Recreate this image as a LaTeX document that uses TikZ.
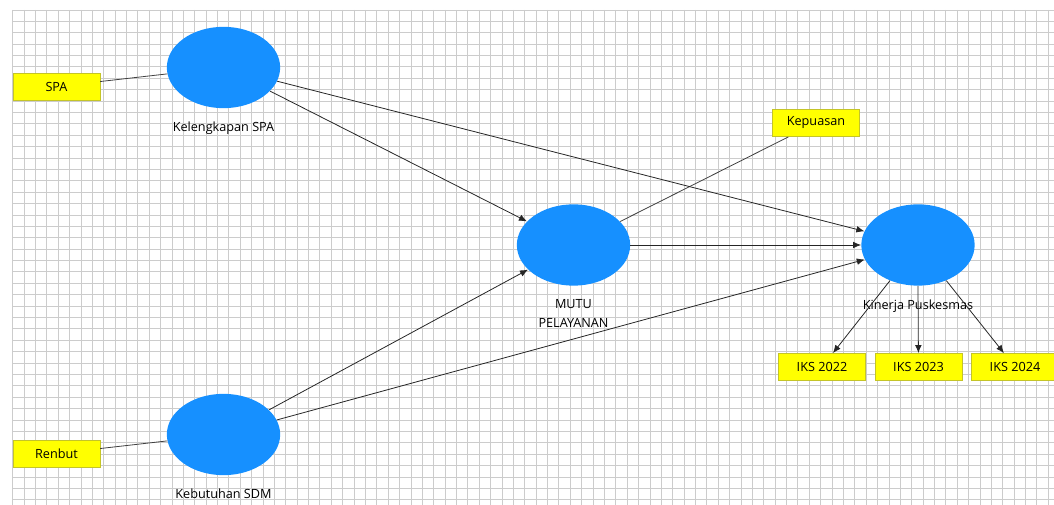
\documentclass[tikz,border=0pt]{standalone}
\usepackage{fontspec}
\setmainfont{Open Sans}
\usetikzlibrary{arrows.meta,positioning,shapes.geometric}
\definecolor{lvblue}{RGB}{22,144,255}
\definecolor{mvyellow}{RGB}{255,255,0}
\definecolor{mvedge}{RGB}{196,196,40}
\definecolor{gridgray}{RGB}{204,204,204}
\tikzset{
  latent/.style={ellipse, fill=lvblue, draw=none, minimum width=85pt, minimum height=61pt, inner sep=0pt},
  indic/.style={rectangle, fill=mvyellow, draw=mvedge, minimum width=65pt, minimum height=20.5pt, inner sep=2pt, font=\fontsize{9.5}{11}\selectfont},
  lbl/.style={inner sep=0pt, label distance=10pt, align=center, font=\fontsize{9.5}{14}\selectfont},
  arr/.style={-{Latex[length=6pt,width=5pt]}, black!85, line width=0.6pt},
  lnk/.style={black!75, line width=0.6pt},
}

\begin{document}
\begin{tikzpicture}[x=0.75pt,y=-0.75pt]
  \useasboundingbox (0,0) rectangle (1054,505);
  % grid paper
  \foreach \i in {0,...,91}
    \draw[gridgray, line width=0.7pt] ({12.7+11.38*\i},10) -- ({12.7+11.38*\i},505);
  \foreach \j in {0,...,43}
    \draw[gridgray, line width=0.7pt] (12.7,{10+11.39*\j}) -- (1054,{10+11.39*\j});

  % latent variables
  \node[latent, label={[lbl]below:Kelengkapan SPA}] (kel) at (223.5,67.5) {};
  \node[latent, label={[lbl]below:Kebutuhan SDM}] (sdm) at (223.5,434.5) {};
  \node[latent, label={[lbl]below:{MUTU\\PELAYANAN}}] (mutu) at (573.5,245) {};
  \node[latent, label={[lbl]below:Kinerja Puskesmas}] (kinerja) at (918,245) {};

  % indicators
  \node[indic] (spa) at (56.5,86.5) {SPA};
  \node[indic] (renbut) at (56.5,453.5) {Renbut};
  \node[indic] (kepuasan) at (816,123) {Kepuasan};
  \node[indic] (iks22) at (822,367) {IKS 2022};
  \node[indic] (iks23) at (918.5,367) {IKS 2023};
  \node[indic] (iks24) at (1015,367) {IKS 2024};

  % outer model
  \draw[lnk] (spa) -- (kel);
  \draw[lnk] (renbut) -- (sdm);
  \draw[lnk] (mutu) -- (kepuasan);
  \draw[arr] (kinerja) -- (iks22);
  \draw[arr] (kinerja.south) -- (iks23);
  \draw[arr] (kinerja) -- (iks24);

  % inner model
  \draw[arr] (kel) -- (mutu);
  \draw[arr] (kel) -- (kinerja);
  \draw[arr] (sdm) -- (mutu);
  \draw[arr] (sdm) -- (kinerja);
  \draw[arr] (mutu) -- (kinerja);
\end{tikzpicture}
\end{document}
